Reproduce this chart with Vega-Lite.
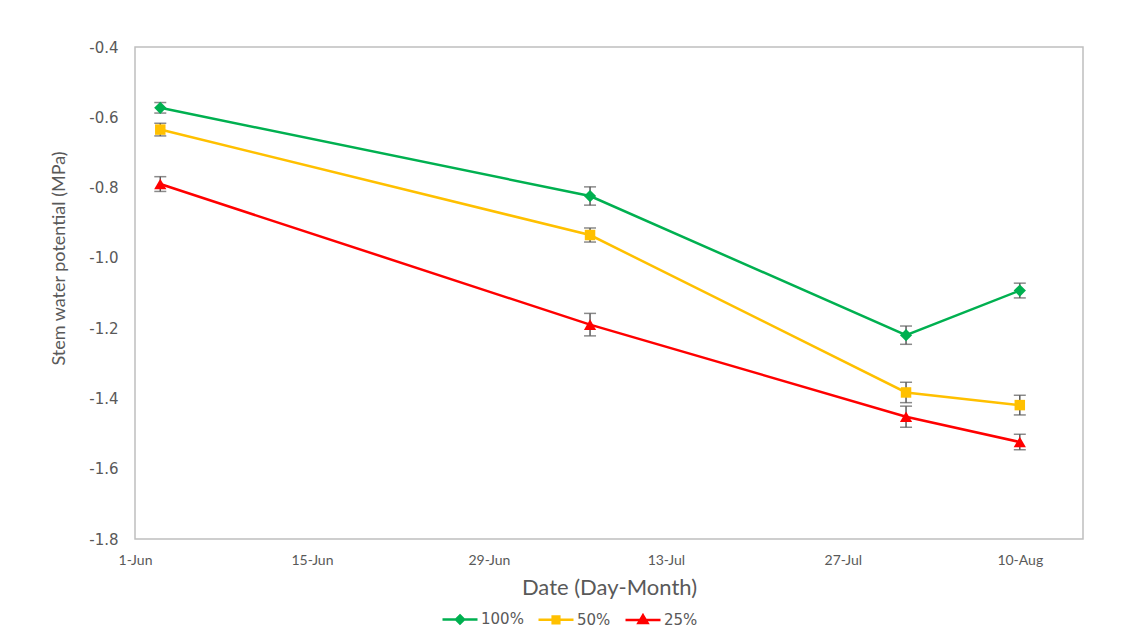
{
  "$schema": "https://vega.github.io/schema/vega-lite/v6.json",
  "width": 948,
  "height": 492,
  "autosize": {"type": "none"},
  "padding": {"left": 135, "top": 47, "right": 42, "bottom": 100},
  "background": "white",
  "config": {"view": {"stroke": "#BFBFBF", "strokeWidth": 1.5}, "font": "Lato"},
  "data": {"values": [
    {"date": "2023-06-03T00:00:00", "treatment": "100%", "value": -0.573, "err": 0.015},
    {"date": "2023-07-07T00:00:00", "treatment": "100%", "value": -0.824, "err": 0.026},
    {"date": "2023-08-01T00:00:00", "treatment": "100%", "value": -1.22, "err": 0.026},
    {"date": "2023-08-10T00:00:00", "treatment": "100%", "value": -1.093, "err": 0.021},
    {"date": "2023-06-03T00:00:00", "treatment": "50%", "value": -0.635, "err": 0.018},
    {"date": "2023-07-07T00:00:00", "treatment": "50%", "value": -0.935, "err": 0.02},
    {"date": "2023-08-01T00:00:00", "treatment": "50%", "value": -1.383, "err": 0.029},
    {"date": "2023-08-10T00:00:00", "treatment": "50%", "value": -1.419, "err": 0.028},
    {"date": "2023-06-03T00:00:00", "treatment": "25%", "value": -0.79, "err": 0.021},
    {"date": "2023-07-07T00:00:00", "treatment": "25%", "value": -1.19, "err": 0.032},
    {"date": "2023-08-01T00:00:00", "treatment": "25%", "value": -1.452, "err": 0.03},
    {"date": "2023-08-10T00:00:00", "treatment": "25%", "value": -1.524, "err": 0.022}
  ]},
  "encoding": {
    "x": {
      "field": "date", "type": "temporal",
      "scale": {"domain": [{"year": 2023, "month": 6, "date": 1}, {"year": 2023, "month": 8, "date": 15}]},
      "axis": {
        "title": "Date (Day-Month)",
        "values": [
          {"year": 2023, "month": 6, "date": 1},
          {"year": 2023, "month": 6, "date": 15},
          {"year": 2023, "month": 6, "date": 29},
          {"year": 2023, "month": 7, "date": 13},
          {"year": 2023, "month": 7, "date": 27},
          {"year": 2023, "month": 8, "date": 10}
        ],
        "format": "%-d-%b",
        "labelFont": "Lato",
        "labelFontSize": 14,
        "labelColor": "#595959",
        "labelFlush": false,
        "labelOverlap": false,
        "ticks": false,
        "domain": false,
        "grid": false,
        "labelPadding": 14,
        "titleFont": "Lato",
        "titleFontSize": 22,
        "titleFontWeight": "normal",
        "titleColor": "#595959",
        "titlePadding": 10
      }
    },
    "y": {
      "field": "value", "type": "quantitative",
      "scale": {"domain": [-1.8, -0.4], "nice": false, "zero": false},
      "axis": {
        "title": "Stem water potential  (MPa)",
        "values": [-1.8, -1.6, -1.4, -1.2, -1.0, -0.8, -0.6, -0.4],
        "labelExpr": "(datum.value < 0 ? '-' : '') + format(abs(datum.value), '.1f')",
        "labelFont": "DejaVu Sans",
        "labelFontSize": 15,
        "labelColor": "#595959",
        "labelFlush": false,
        "ticks": false,
        "domain": false,
        "grid": false,
        "labelPadding": 17,
        "titleFont": "Lato",
        "titleFontSize": 18,
        "titleFontWeight": "normal",
        "titleColor": "#595959",
        "titleAngle": -90,
        "titleAlign": "center",
        "titleBaseline": "middle",
        "titleX": -76,
        "titleY": 211
      }
    },
    "color": {
      "field": "treatment", "type": "nominal",
      "scale": {"domain": ["100%", "50%", "25%"], "range": ["#00B050", "#FFC000", "#FF0000"]},
      "legend": null
    }
  },
  "layer": [
    {
      "mark": {"type": "line", "strokeWidth": 2.5},
      "encoding": {
        "color": {
          "field": "treatment", "type": "nominal",
          "scale": {"domain": ["100%", "50%", "25%"], "range": ["#00B050", "#FFC000", "#FF0000"]},
          "legend": {
            "orient": "none",
            "legendX": 306,
            "legendY": 553,
            "direction": "horizontal",
            "title": null,
            "padding": 0,
            "symbolSize": 1225,
            "symbolStrokeWidth": 2.5,
            "symbolType": "M-1,0L1,0",
            "labelFont": "DejaVu Sans",
            "labelFontSize": 15,
            "labelColor": "#595959",
            "labelOffset": 2,
            "columnPadding": 9,
            "encode": {
              "symbols": {
                "update": {
                  "shape": {"signal": "datum.value === '100%' ? 'M-1,0L1,0M0,-0.23L0.23,0L0,0.23L-0.23,0Z' : datum.value === '50%' ? 'M-1,0L1,0M-0.19,-0.19L0.19,-0.19L0.19,0.19L-0.19,0.19Z' : 'M-1,0L1,0M0,-0.27L0.26,0.17L-0.26,0.17Z'"},
                  "size": {"value": 1225},
                  "strokeWidth": {"value": 2.5},
                  "fill": {"signal": "scale('color', datum.value)"},
                  "stroke": {"signal": "scale('color', datum.value)"},
                  "fillOpacity": {"value": 1},
                  "strokeOpacity": {"value": 1},
                  "opacity": {"value": 1}
                }
              }
            }
          }
        }
      }
    },
    {
      "mark": {"type": "errorbar", "ticks": {"size": 12}, "thickness": 1.5, "color": "#595959"},
      "encoding": {
        "yError": {"field": "err"},
        "color": {"value": "#595959"}
      }
    },
    {
      "transform": [{"filter": "datum.treatment === '100%'"}],
      "mark": {"type": "point", "filled": true, "opacity": 1, "shape": "diamond", "size": 150}
    },
    {
      "transform": [{"filter": "datum.treatment === '50%'"}],
      "mark": {"type": "point", "filled": true, "opacity": 1, "shape": "square", "size": 110}
    },
    {
      "transform": [{"filter": "datum.treatment === '25%'"}],
      "mark": {"type": "point", "filled": true, "opacity": 1, "shape": "triangle-up", "size": 150}
    }
  ]
}
